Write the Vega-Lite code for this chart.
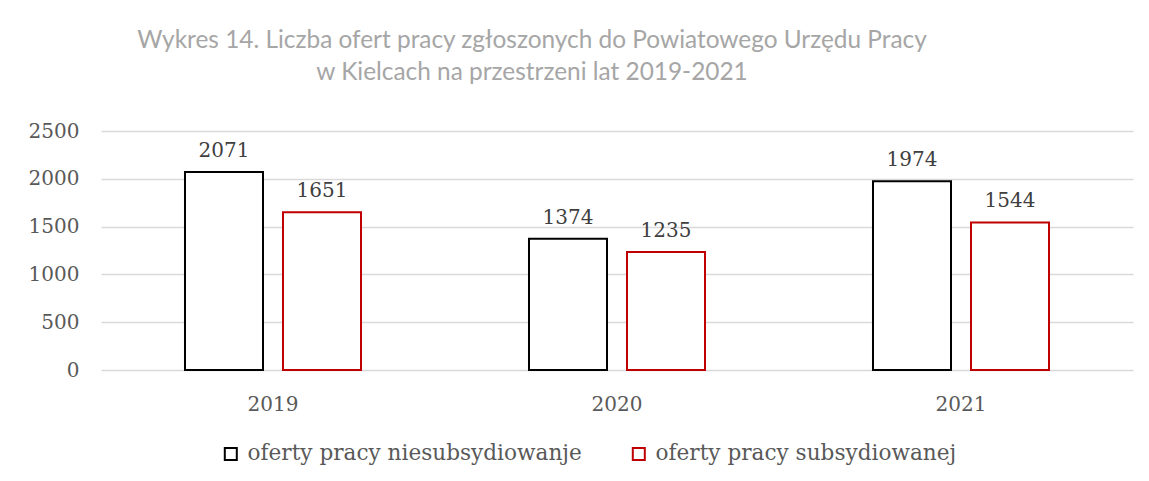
{
  "$schema": "https://vega.github.io/schema/vega-lite/v6.json",
  "autosize": {"type": "none"},
  "width": 1032,
  "height": 239,
  "padding": {"left": 101, "top": 131, "right": 16, "bottom": 111},
  "background": "white",
  "title": {
    "text": ["Wykres 14. Liczba ofert pracy zgłoszonych do Powiatowego Urzędu Pracy", "w Kielcach na przestrzeni lat 2019-2021"],
    "anchor": "middle",
    "align": "center",
    "dx": -85,
    "dy": 4,
    "offset": 40,
    "font": "Lato",
    "fontSize": 24.4,
    "fontWeight": "normal",
    "color": "#a6a6a6",
    "lineHeight": 32
  },
  "data": {
    "values": [
      {"rok": "2019", "seria": "oferty pracy niesubsydiowanje", "liczba": 2071},
      {"rok": "2019", "seria": "oferty pracy subsydiowanej", "liczba": 1651},
      {"rok": "2020", "seria": "oferty pracy niesubsydiowanje", "liczba": 1374},
      {"rok": "2020", "seria": "oferty pracy subsydiowanej", "liczba": 1235},
      {"rok": "2021", "seria": "oferty pracy niesubsydiowanje", "liczba": 1974},
      {"rok": "2021", "seria": "oferty pracy subsydiowanej", "liczba": 1544}
    ]
  },
  "encoding": {
    "x": {
      "field": "rok", "type": "nominal",
      "scale": {"paddingInner": 0, "paddingOuter": 0},
      "axis": {"title": null, "domain": false, "ticks": false, "labelAngle": 0, "labelPadding": 24,
        "labelFont": "DejaVu Serif", "labelFontSize": 20, "labelColor": "#595959", "grid": false}
    },
    "xOffset": {
      "field": "seria", "type": "nominal",
      "scale": {"paddingInner": 0.204, "paddingOuter": 0.857}
    },
    "y": {
      "field": "liczba", "type": "quantitative",
      "scale": {"domain": [0, 2500]},
      "axis": {"title": null, "domain": false, "ticks": false, "values": [0, 500, 1000, 1500, 2000, 2500], "format": "d",
        "labelPadding": 22, "labelFont": "DejaVu Serif", "labelFontSize": 20, "labelColor": "#595959",
        "gridColor": "#d9d9d9", "gridWidth": 1.5}
    }
  },
  "layer": [
    {
      "mark": {"type": "bar", "fill": "white", "strokeWidth": 2},
      "encoding": {
        "stroke": {
          "field": "seria", "type": "nominal",
          "scale": {"domain": ["oferty pracy niesubsydiowanje", "oferty pracy subsydiowanej"], "range": ["#000000", "#c00000"]},
          "legend": {
            "title": null, "orient": "none", "direction": "horizontal",
            "legendX": 119, "legendY": 312,
            "symbolType": "square", "symbolSize": 144, "symbolStrokeWidth": 2, "symbolFillColor": "white",
            "labelFont": "DejaVu Serif", "labelFontSize": 21.6, "labelColor": "#595959",
            "labelOffset": 6, "columnPadding": 46, "labelLimit": 500
          }
        }
      }
    },
    {
      "mark": {"type": "text", "font": "DejaVu Serif", "fontSize": 20, "color": "#404040", "baseline": "alphabetic", "dy": -15},
      "encoding": {
        "text": {"field": "liczba", "type": "quantitative"}
      }
    }
  ],
  "config": {"view": {"stroke": null}}
}
